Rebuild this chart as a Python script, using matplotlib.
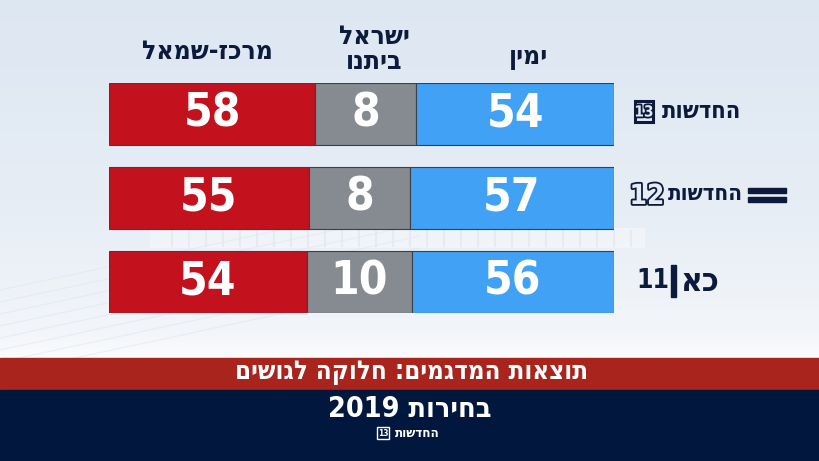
import matplotlib
matplotlib.use("Agg")
import matplotlib.pyplot as plt
import matplotlib.patheffects as pe
import numpy as np
from matplotlib.patches import Rectangle

# seat blocks per channel poll (rows top to bottom)
channels = ["Channel 13", "Channel 12", "Kan 11"]
left_bloc = [58, 55, 54]        # מרכז-שמאל
yisrael_beytenu = [8, 8, 10]    # ישראל ביתנו
right_bloc = [54, 57, 56]       # ימין

# hebrew text, stored in visual (left-to-right) order since matplotlib has no bidi
hdr_left = "לאמש-זכרמ"
hdr_mid_1 = "לארשי"
hdr_mid_2 = "ונתיב"
hdr_right = "ןימי"
news = "תושדחה"
kan = "אכ"
banner = "םישוגל הקולח :םימגדמה תואצות"
footer = "2019 תוריחב"

RED = "#c3111e"
GREY = "#868b91"
BLUE = "#41a1f4"
NAVY = "#0c1a3c"
seg_pad = 40   # the graphic gives each block a fixed minimum width

heb = dict(family=["DejaVu Sans"], fontweight="bold", fontstretch="condensed")
num = dict(family=["Liberation Sans Narrow", "DejaVu Sans"], fontweight="bold",
           fontstretch="condensed")

fig = plt.figure(figsize=(8.2, 4.61), dpi=100)

# background layer in pixel coords
bg = fig.add_axes([0, 0, 1, 1])
bg.set_xlim(0, 820)
bg.set_ylim(461, 0)
bg.axis("off")
rows_px = np.arange(461)
stops = [0, 200, 330, 356]
cols = np.array([[0xdd, 0xe7, 0xf2], [0xe6, 0xed, 0xf5], [0xf2, 0xf5, 0xf9], [0xfa, 0xfb, 0xfd]]) / 255
grad = np.stack([np.interp(rows_px, stops, cols[:, i]) for i in range(3)], axis=1)
bg.imshow(np.repeat(grad[:, None, :], 2, axis=1), extent=[0, 820, 461, 0], aspect="auto", zorder=0)

# faint skyline strip and floor lines
bg.add_patch(Rectangle((150, 228), 495, 20, color="white", alpha=0.35, lw=0, zorder=0.5))
for xs in np.arange(172, 640, 17):
    bg.plot([xs, xs], [231, 246], color="#d3dfec", lw=1.5, alpha=0.4, zorder=0.6)
for y0 in np.arange(290, 380, 12):
    bg.plot([0, 420], [y0, y0 - 90], color="#dbe4ef", lw=0.8, alpha=0.5, zorder=0.6)

# banners
bg.add_patch(Rectangle((0, 358), 820, 32, color="#a8241c", zorder=1))
bg.add_patch(Rectangle((0, 390), 820, 71, color="#02173d", zorder=1))
bg.text(412, 372, banner, color="white", fontsize=18.5, ha="center", va="center", zorder=2, **heb)
bg.text(410, 409, footer, color="white", fontsize=20.5, ha="center", va="center", zorder=2, **heb)
bg.text(417, 433, news, color="white", fontsize=9.5, ha="center", va="center", zorder=2, **heb)
bg.add_patch(Rectangle((377, 427), 12, 12, facecolor="none", edgecolor="white", lw=1, zorder=2))
bg.text(383, 433.5, "13", color="white", fontsize=6, ha="center", va="center", zorder=2, **num)

# column headers
hdr = dict(color=NAVY, fontsize=19, ha="center", va="center")
bg.text(207, 52, hdr_left, **hdr, **heb)
bg.text(374, 37, hdr_mid_1, **hdr, **heb)
bg.text(374, 62, hdr_mid_2, **hdr, **heb)
bg.text(529, 57, hdr_right, **hdr, **heb)

# channel logos
outline = [pe.Stroke(linewidth=2.6, foreground=NAVY), pe.Normal()]
bg.text(702, 111, news, color=NAVY, fontsize=17, ha="center", va="center", **heb)
bg.add_patch(Rectangle((635, 101), 18, 21, facecolor="none", edgecolor=NAVY, lw=2.2))
bg.text(644, 112, "13", color="#e2eaf4", fontsize=11, ha="center", va="center",
        path_effects=outline, **num)
bg.text(647, 196, "12", color="#e4ebf4", fontsize=20, ha="center", va="center",
        path_effects=outline, **num)
bg.text(705, 194, news, color=NAVY, fontsize=16, ha="center", va="center", **heb)
bg.add_patch(Rectangle((748, 188), 38, 5, color=NAVY))
bg.add_patch(Rectangle((748, 197), 38, 5, color=NAVY))
bg.text(653, 281, "11", color=NAVY, fontsize=19, ha="center", va="center", **num)
bg.add_patch(Rectangle((671, 265), 5, 32, color=NAVY))
bg.text(700, 281, kan, color=NAVY, fontsize=24, ha="center", va="center", **heb)

# stacked bars
ax = fig.add_axes([109 / 820, (461 - 313) / 461, 505 / 820, 230 / 461])
y = np.arange(len(channels))
start = np.zeros(len(channels))
for vals, color in [(left_bloc, RED), (yisrael_beytenu, GREY), (right_bloc, BLUE)]:
    w = np.array(vals) + seg_pad
    ax.barh(y, w, left=start, height=0.74, color=color, edgecolor="#3b4048", linewidth=0.8)
    for yi, s, wi, v in zip(y, start, w, vals):
        ax.text(s + wi / 2, yi, str(v), color="white", fontsize=33, ha="center", va="center", **num)
    start = start + w
ax.set_xlim(0, start.max())
ax.set_ylim(2.37, -0.37)
ax.axis("off")

fig.savefig("out.png", dpi=100)
